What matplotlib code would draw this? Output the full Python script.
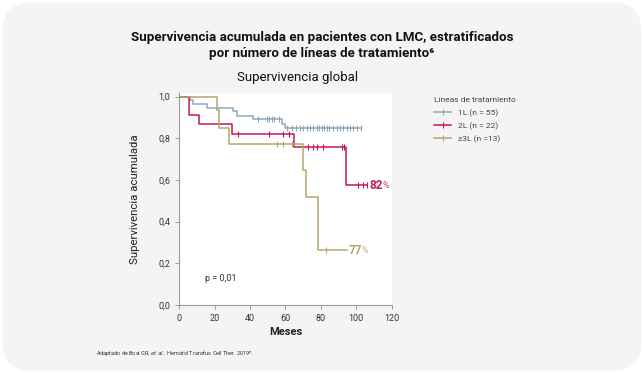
import numpy as np
import matplotlib
matplotlib.use("Agg")
import matplotlib.pyplot as plt
from matplotlib.patches import FancyBboxPatch
from matplotlib.lines import Line2D
from matplotlib import font_manager

plt.rcParams['font.family'] = ['Roboto', 'DejaVu Sans']

# Kaplan-Meier steps (months, survival)
t_1L = [0, 6.0, 7.6, 15.8, 30.5, 32.4, 41.8, 58.2, 59.7, 102.5]
s_1L = [1.0, 0.982, 0.964, 0.945, 0.930, 0.909, 0.891, 0.869, 0.848, 0.848]
cens_1L = [44.6, 49.4, 50.8, 52.2, 53.7, 56.5,
           61.0, 63.5, 65.9, 68.2, 70.1, 72.0, 73.8, 75.7, 77.6, 79.1, 80.4, 81.9,
           83.3, 84.7, 87.0, 88.9, 90.8, 92.7, 94.6, 96.4, 98.3, 100.2, 102.5]

t_2L = [0, 5.6, 11.1, 29.9, 65.0, 94.2, 106.2]
s_2L = [1.0, 0.912, 0.869, 0.822, 0.760, 0.574, 0.574]
cens_2L = [33.0, 50.8, 58.8, 62.0, 72.9, 75.4, 77.6, 81.4, 92.1, 93.0, 101.1, 103.6, 105.9]

t_3L = [0, 21.1, 22.6, 28.2, 69.7, 71.6, 78.5, 94.6]
s_3L = [1.0, 0.934, 0.850, 0.772, 0.646, 0.518, 0.264, 0.264]
cens_3L = [55.0, 58.8, 63.5, 82.9]

series_names = ['1L (n = 55)', '2L (n = 22)', '\u22653L (n =13)']
series_colors = ['#8fa5b8', '#c4175a', '#b5a66c']
end_labels = [None, '82', '77']

x_ticks = [0, 20, 40, 60, 80, 100, 120]
y_ticks = [0.0, 0.2, 0.4, 0.6, 0.8, 1.0]
y_ticklabels = ['0,0', '0,2', '0,4', '0,6', '0,8', '1,0']

# narrow font for the footnote if there is one
names = {f.name for f in font_manager.fontManager.ttflist}
foot_font = ['Liberation Sans Narrow'] if 'Liberation Sans Narrow' in names else ['Roboto']

fig = plt.figure(figsize=(6.44, 3.73), dpi=100)
fig.patch.set_facecolor('white')
bg = FancyBboxPatch((0.004, 0.006), 0.992, 0.988, boxstyle="round,pad=0,rounding_size=0.045",
                    transform=fig.transFigure, facecolor='#f4f4f4', edgecolor='none', zorder=-10,
                    mutation_aspect=644 / 373)
fig.patches.append(bg)

ax = fig.add_axes([0.2784, 0.1823, 0.3298, 0.5697])
ax.set_facecolor('white')

def km_value(t, s, x):
    # value of the step function at x
    idx = np.searchsorted(t, x, side='right') - 1
    return np.array(s)[idx]

curves = [(t_1L, s_1L, cens_1L), (t_2L, s_2L, cens_2L), (t_3L, s_3L, cens_3L)]
for (t, s, c), col in zip(curves, series_colors):
    ax.step(t, s, where='post', color=col, lw=1.1)
    ax.plot(c, km_value(t, s, c), linestyle='none', marker='|', markersize=5,
            markeredgewidth=0.8, color=col)

# end labels
for (t, s, c), col, lab in zip(curves, series_colors, end_labels):
    if lab is None:
        continue
    txt = ax.text(t[-1] + 1.0, s[-1], lab, color=col, fontsize=8.5, fontweight='bold',
                  va='center', ha='left')
    ax.annotate('%', xy=(1, 0.12), xycoords=txt, color=col, fontsize=6.5,
                va='bottom', ha='left', alpha=0.85)

ax.text(14.5, 0.125, 'p = 0,01', fontsize=6.5, color='#333333', va='center')

ax.set_xlim(0, 120)
ax.set_ylim(0, 1.02)
ax.set_xticks(x_ticks)
ax.set_yticks(y_ticks)
ax.set_yticklabels(y_ticklabels)
for side in ['top', 'right']:
    ax.spines[side].set_visible(False)
for side in ['left', 'bottom']:
    ax.spines[side].set_color('#9a9a9a')
    ax.spines[side].set_linewidth(0.8)
ax.tick_params(colors='#9a9a9a', labelcolor='#333333', labelsize=6.5, length=3, width=0.7)

ax.set_xlabel('Meses', fontsize=8, fontweight='bold', color='#222222', labelpad=3)
ax.set_ylabel('Supervivencia acumulada', fontsize=8.2, color='#222222', labelpad=13)

handles = [Line2D([0], [0], color=col, lw=1.1, marker='|', markersize=5, markeredgewidth=0.8)
           for col in series_colors]
leg = ax.legend(handles, series_names, title='L\u00edneas de tratamiento', loc='upper left',
                bbox_to_anchor=(427 / 644, 1 - 90 / 373), bbox_transform=fig.transFigure,
                frameon=False, fontsize=6.0, title_fontsize=6.0, handlelength=2.0,
                handletextpad=0.8, labelspacing=0.65, numpoints=1)
leg._legend_box.align = 'left'
for t in leg.get_texts():
    t.set_color('#444444')
leg.get_title().set_color('#444444')

fig.text(0.5, 1 - 38 / 373, 'Supervivencia acumulada en pacientes con LMC, estratificados',
         ha='center', va='center', fontsize=9.6, fontweight='bold', color='#111111')
fig.text(0.5, 1 - 54 / 373, 'por n\u00famero de l\u00edneas de tratamiento\u2076',
         ha='center', va='center', fontsize=9.6, fontweight='bold', color='#111111')
fig.text(298 / 644, 1 - 77 / 373, 'Supervivencia global', ha='center', va='center',
         fontsize=9.5, color='#111111')

fig.text(96 / 644, 1 - 353 / 373,
         'Adaptado de Bosi GR, $\\it{et\\ al.}$ Hematol Transfus Cell Ther. 2019\u2076.',
         ha='left', va='center', fontsize=4.0, color='#333333', family=foot_font)

fig.savefig('out.png', dpi=100, facecolor=fig.get_facecolor())
